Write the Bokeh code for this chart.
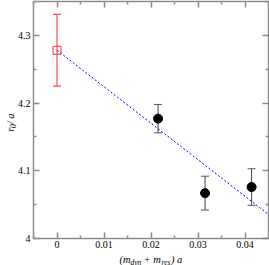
import math
from bokeh.plotting import figure
from bokeh.layouts import column, row
from bokeh.embed import file_html
from bokeh.resources import INLINE
from bokeh.core.properties import value
from bokeh.models import (ColumnDataSource, Whisker, TeeHead, LinearAxis, FixedTicker,
                          CustomJSTickFormatter, Range1d)

# ---- data ----
cont_x = [0.0]
cont_y = [4.278]
cont_err = [0.053]

lat_x = [0.0215, 0.0315, 0.0414]
lat_y = [4.177, 4.067, 4.076]
lat_err = [0.021, 0.025, 0.027]

fit_intercept = 4.278
fit_slope = -5.39
fit_x = [0.0, 0.045]

x_ticks = [0.0, 0.01, 0.02, 0.03, 0.04]
x_tick_labels = ["0", "0.01", "0.02", "0.03", "0.04"]
x_minor = [-0.005, 0.005, 0.015, 0.025, 0.035, 0.045]
y_ticks = [4.0, 4.1, 4.2, 4.3]
y_tick_labels = ["4", "4.1", "4.2", "4.3"]
y_minor = [4.05, 4.15, 4.25, 4.35]

FONT = "Liberation Serif"
AXC = "#8c8c8c"
W, H = 269, 265
YT_W = 30          # width of strip holding the y title
YT_OVER = 16       # main plot overlaps the right part of that strip
MAIN_H = 251       # height of main plot
XT_OVER = 3        # x-title strip overlaps the (empty) bottom of the main plot

MAIN_X0 = YT_W - YT_OVER
p = figure(width=W - MAIN_X0, height=MAIN_H, output_backend="svg", toolbar_location=None,
           x_range=Range1d(-0.005, 0.045), y_range=Range1d(4.0, 4.35),
           min_border_left=30 - MAIN_X0, min_border_right=1, min_border_top=1, min_border_bottom=13)
p.xgrid.visible = False
p.ygrid.visible = False
p.outline_line_color = None
p.border_fill_color = None
p.background_fill_color = "white"

def fmt(ticks, labels):
    return CustomJSTickFormatter(args=dict(t=ticks, l=labels), code="""
        let best = 0, d = 1e9;
        for (let i = 0; i < t.length; i++) { const e = Math.abs(t[i] - tick); if (e < d) { d = e; best = i; } }
        return l[best];
    """)

blank = CustomJSTickFormatter(code="return '';")

def style(ax, standoff):
    ax.axis_line_color = AXC
    ax.axis_line_width = 1.5
    ax.major_tick_line_color = AXC
    ax.minor_tick_line_color = AXC
    ax.major_tick_line_width = 1.5
    ax.minor_tick_line_width = 1.5
    ax.major_tick_in = 6
    ax.major_tick_out = 0
    ax.minor_tick_in = 3
    ax.minor_tick_out = 0
    ax.major_label_text_font = FONT
    ax.major_label_text_color = "black"
    ax.major_label_text_font_size = "10px"
    ax.major_label_standoff = standoff

xa = p.xaxis[0]
xa.ticker = FixedTicker(ticks=x_ticks, minor_ticks=x_minor)
xa.formatter = fmt(x_ticks, x_tick_labels)
style(xa, 2)
ya = p.yaxis[0]
ya.ticker = FixedTicker(ticks=y_ticks, minor_ticks=y_minor)
ya.formatter = fmt(y_ticks, y_tick_labels)
style(ya, 3)

top = LinearAxis(ticker=FixedTicker(ticks=x_ticks, minor_ticks=x_minor), formatter=blank)
style(top, 0)
p.add_layout(top, "above")
right = LinearAxis(ticker=FixedTicker(ticks=y_ticks, minor_ticks=y_minor), formatter=blank)
style(right, 0)
p.add_layout(right, "right")

# fit line
fit_y = [fit_intercept + fit_slope * x for x in fit_x]
p.line(fit_x, fit_y, line_color="blue", line_width=1, line_dash="2 2")

# error bars
src_c = ColumnDataSource(dict(x=cont_x, y=cont_y,
                              lo=[y - e for y, e in zip(cont_y, cont_err)],
                              hi=[y + e for y, e in zip(cont_y, cont_err)]))
src_l = ColumnDataSource(dict(x=lat_x, y=lat_y,
                              lo=[y - e for y, e in zip(lat_y, lat_err)],
                              hi=[y + e for y, e in zip(lat_y, lat_err)]))
p.add_layout(Whisker(source=src_c, base="x", lower="lo", upper="hi", dimension="height",
                     line_color="#ff5050", line_width=1.2,
                     upper_head=TeeHead(size=8, line_color="#ff5050", line_width=1.2),
                     lower_head=TeeHead(size=8, line_color="#ff5050", line_width=1.2)))
p.add_layout(Whisker(source=src_l, base="x", lower="lo", upper="hi", dimension="height",
                     line_color="#444444", line_width=1,
                     upper_head=TeeHead(size=8, line_color="#555555", line_width=1),
                     lower_head=TeeHead(size=8, line_color="#555555", line_width=1)))

p.scatter("x", "y", source=src_c, marker="square", size=8, fill_color=None,
          line_color="#ff3030", line_width=1)
p.scatter("x", "y", source=src_l, marker="circle", size=9, fill_color="black",
          line_color="black")

# ---- title strips (pixel coordinates, y measured from the page top) ----
def strip(w, h, y_top):
    f = figure(width=w, height=h, output_backend="svg", toolbar_location=None,
               x_range=Range1d(0, w), y_range=Range1d(y_top + h, y_top),
               x_axis_location=None, y_axis_location=None,
               min_border_left=0, min_border_right=0, min_border_top=0, min_border_bottom=0)
    f.xgrid.visible = False
    f.ygrid.visible = False
    f.outline_line_color = None
    f.background_fill_color = None
    f.border_fill_color = None
    return f

def txt(f, s, x, y, size, angle=0.0):
    f.text(x=[x], y=[y], text=[s], text_font=value(FONT), text_font_style="italic",
           text_font_size=value(size), text_color="black", text_baseline="alphabetic",
           text_align="left", angle=angle)

yfig = strip(YT_W, MAIN_H, 0)
yfig.styles = {"margin-right": f"-{YT_OVER}px"}
txt(yfig, "r", 9.8, 138, "10.5px", math.pi / 2)
txt(yfig, "0", 12.2, 134, "7.5px", math.pi / 2)
txt(yfig, " / a", 9.8, 130, "10.5px", math.pi / 2)

xfig = strip(W, H - MAIN_H + XT_OVER, MAIN_H - XT_OVER)
xfig.styles = {"margin-top": f"-{XT_OVER}px"}
txt(xfig, "(m", 119, 259, "10.5px")
txt(xfig, "dyn", 130, 261.5, "7.5px")
txt(xfig, "+ m", 143, 259, "10.5px")
txt(xfig, "res", 161, 261.5, "7.5px")
txt(xfig, ") a", 170.5, 259, "10.5px")

root = column(row(yfig, p, spacing=0), xfig, spacing=0)
root.styles = {"position": "absolute", "left": "0px", "top": "0px", "background": "white"}

open("out.html", "w").write(file_html(root, INLINE))
